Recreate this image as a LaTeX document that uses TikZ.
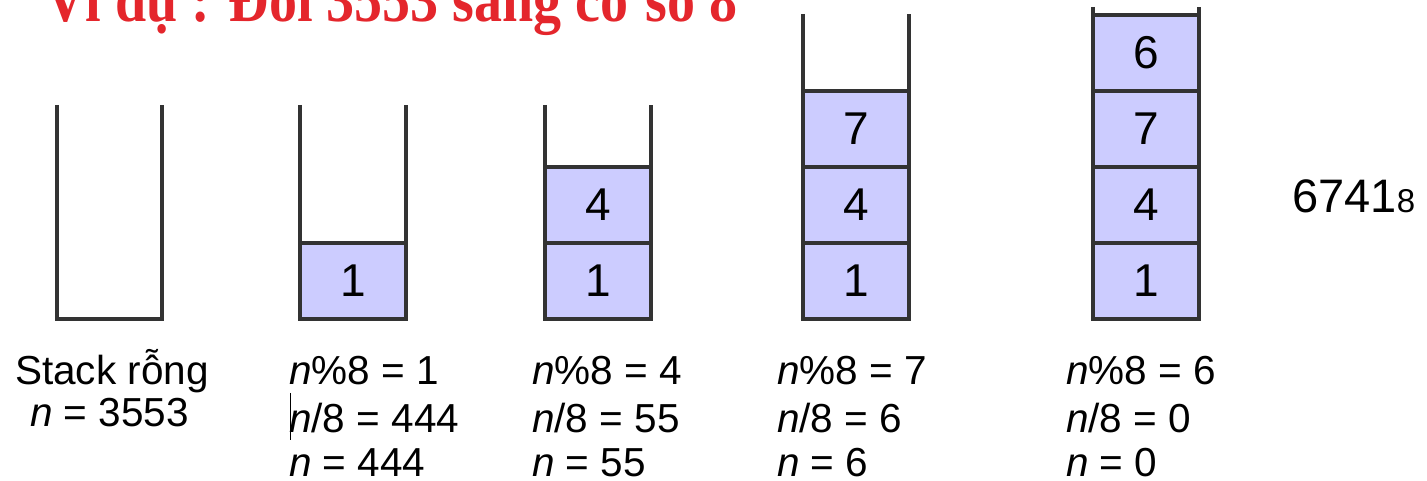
\documentclass[tikz,border=0pt]{standalone}
\usepackage{fontspec}
\setmainfont{Liberation Sans}
\newfontfamily\titlefont{Liberation Serif}
\definecolor{cellfill}{HTML}{CCCCFF}
\definecolor{wallcol}{HTML}{333333}
\definecolor{titlered}{HTML}{E4262C}
\begin{document}
\begin{tikzpicture}[x=1pt,y=1pt,
  wall/.style={draw=wallcol,line width=3.2pt},
  cell/.style={draw=wallcol,line width=3.2pt,fill=cellfill,minimum width=106pt,minimum height=76pt,inner sep=0pt,outer sep=0pt,anchor=south west,font=\fontsize{46}{46}\selectfont},
  lbl/.style={anchor=base west,inner sep=0pt,font=\fontsize{40.5}{48}\selectfont}]
\useasboundingbox (0,0) rectangle (1427,481);
% title
\node[anchor=base west,inner sep=0pt,text=titlered] (title) at (45,459)
  {\scalebox{0.875}[1]{\titlefont\bfseries\fontsize{64}{66}\selectfont Ví dụ : Đổi 3553 sang cơ số 8}};
% stack 1
\draw[wall] (57,376) -- (57,162) -- (162,162) -- (162,376);
% stack 2
\node[cell] (c21) at (300,162) {1};
\draw[wall] (300,376) -- (300,162) -- (406,162) -- (406,376);
% stack 3
\node[cell] (c31) at (545,162) {1};
\node[cell] (c32) at (545,238) {4};
\draw[wall] (545,376) -- (545,162) -- (651,162) -- (651,376);
% stack 4
\node[cell] (c41) at (803,162) {1};
\node[cell] (c42) at (803,238) {4};
\node[cell] (c43) at (803,314) {7};
\draw[wall] (803,467) -- (803,162) -- (909,162) -- (909,467);
% stack 5
\node[cell] (c51) at (1093,162) {1};
\node[cell] (c52) at (1093,238) {4};
\node[cell] (c53) at (1093,314) {7};
\node[cell] (c54) at (1093,390) {6};
\draw[wall] (1093,474) -- (1093,162) -- (1199,162) -- (1199,474);
% result
\node[anchor=base west,inner sep=0pt] (res) at (1292,268)
  {\fontsize{47}{47}\selectfont 6741{\fontsize{33}{33}\selectfont 8}};
% labels
\node[lbl] (l1a) at (15,96) {Stack rỗng};
\node[lbl] (l1b) at (30,54) {\textit{n} = 3553};
\node[lbl] (l2a) at (289,96) {\textit{n}\%8 = 1};
\node[lbl] (l2b) at (289,48) {\textit{n}/8 = 444};
\node[lbl] (l2c) at (289,4) {\textit{n} = 444};
\draw[line width=1.3pt,draw=black] (290.5,88) -- (290.5,41);
\node[lbl] (l3a) at (532,96) {\textit{n}\%8 = 4};
\node[lbl] (l3b) at (532,48) {\textit{n}/8 = 55};
\node[lbl] (l3c) at (532,4) {\textit{n} = 55};
\node[lbl] (l4a) at (777,96) {\textit{n}\%8 = 7};
\node[lbl] (l4b) at (777,48) {\textit{n}/8 = 6};
\node[lbl] (l4c) at (777,4) {\textit{n} = 6};
\node[lbl] (l5a) at (1066,96) {\textit{n}\%8 = 6};
\node[lbl] (l5b) at (1066,48) {\textit{n}/8 = 0};
\node[lbl] (l5c) at (1066,4) {\textit{n} = 0};
\end{tikzpicture}
\end{document}
